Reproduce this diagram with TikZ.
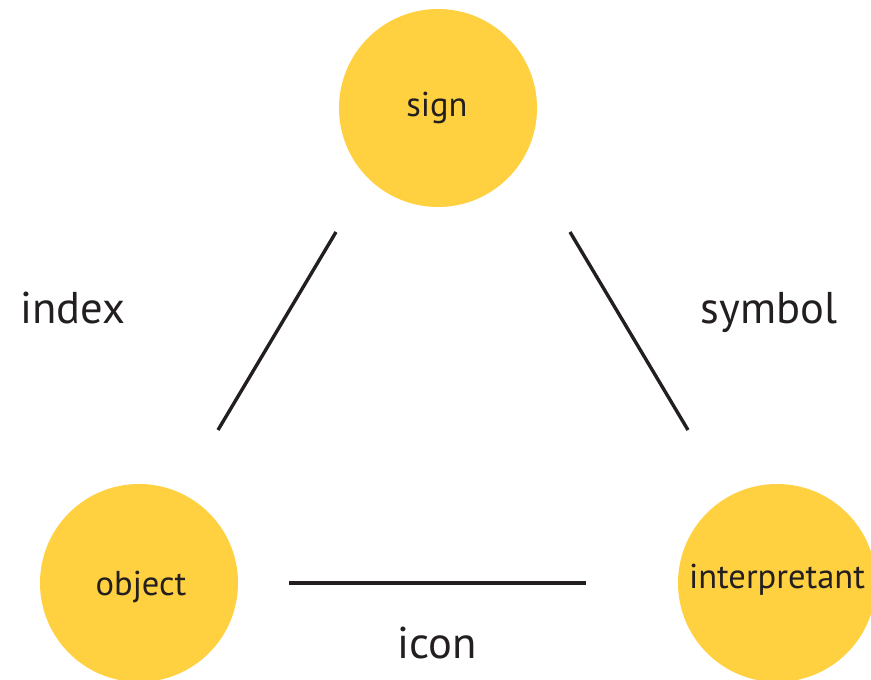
\documentclass[tikz,border=0pt]{standalone}
\usepackage{fontspec}
\setmainfont{PT Sans}
\definecolor{disc}{HTML}{FFD040}
\definecolor{ink}{HTML}{231F20}
\tikzset{
  disc/.style={circle, fill=disc, minimum size=198pt, inner sep=0pt},
  inner/.style={text=ink, anchor=base, font=\fontsize{34.5}{41}\selectfont},
  outer/.style={text=ink, anchor=base, font=\fontsize{44.5}{53}\selectfont},
  link/.style={draw=ink, line width=3.4pt}
}
\begin{document}
\begin{tikzpicture}[x=1pt, y=-1pt]
  \useasboundingbox (0,0) rectangle (871,680);
  \begin{scope}
    \clip (0,0) rectangle (871,680);
    % the three circles
    \node[disc] (sign) at (438,108) {};
    \node[disc] (object) at (139,583) {};
    \node[disc] (interp) at (777,583) {};
  \end{scope}
  % labels inside the circles
  \node[inner] (signtxt) at (437,116) {sign};
  \node[inner] (objtxt) at (141,595) {object};
  \node[inner] (inttxt) at (777,588) {interpretant};
  % connecting strokes
  \coordinate (a1) at (336,232);
  \coordinate (a2) at (218,430);
  \coordinate (b1) at (570,232);
  \coordinate (b2) at (688,430);
  \coordinate (c1) at (289,583);
  \coordinate (c2) at (586,583);
  \draw[link] (a1) -- (a2);
  \draw[link] (b1) -- (b2);
  \draw[link] (c1) -- (c2);
  % relation names
  \node[outer] (index) at (73,323) {index};
  \node[outer] (symbol) at (769,323) {symbol};
  \node[outer] (icon) at (437,658) {icon};
\end{tikzpicture}
\end{document}
